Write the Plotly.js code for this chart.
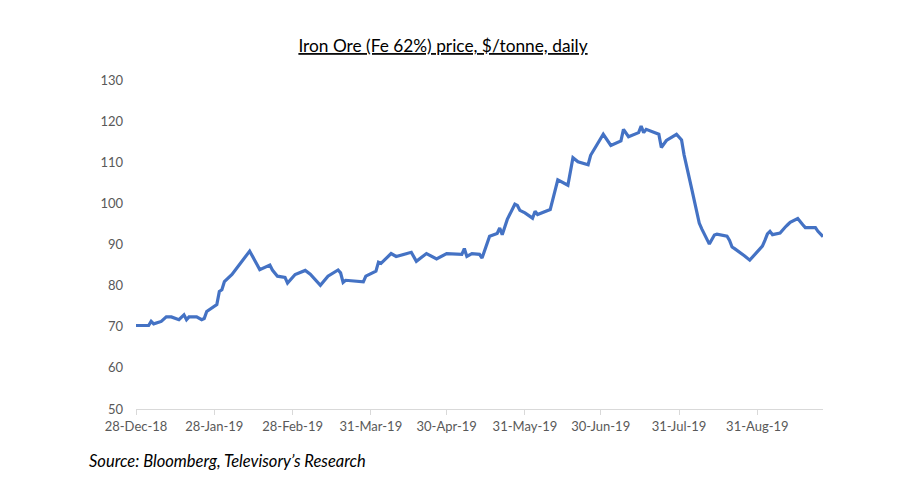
<!DOCTYPE html>
<html>
<head>
<meta charset="utf-8">
<script src="https://cdn.plot.ly/plotly-3.0.1.min.js"></script>
<style>
html,body{margin:0;padding:0;background:#fff;}
#chart{width:900px;height:500px;}
</style>
</head>
<body>
<div id="chart"></div>
<script>
const dates = ['2018-12-28','2019-01-02','2019-01-03','2019-01-04','2019-01-07','2019-01-09','2019-01-11','2019-01-14','2019-01-16','2019-01-17','2019-01-18','2019-01-21','2019-01-23','2019-01-24','2019-01-25','2019-01-29','2019-01-30','2019-01-31','2019-02-01','2019-02-04','2019-02-11','2019-02-14','2019-02-15','2019-02-19','2019-02-20','2019-02-22','2019-02-25','2019-02-26','2019-03-01','2019-03-05','2019-03-07','2019-03-11','2019-03-14','2019-03-18','2019-03-19','2019-03-20','2019-03-21','2019-03-28','2019-03-29','2019-04-02','2019-04-03','2019-04-04','2019-04-08','2019-04-10','2019-04-16','2019-04-18','2019-04-22','2019-04-26','2019-04-30','2019-05-06','2019-05-07','2019-05-08','2019-05-10','2019-05-13','2019-05-14','2019-05-17','2019-05-20','2019-05-21','2019-05-22','2019-05-24','2019-05-27','2019-05-28','2019-05-29','2019-05-31','2019-06-03','2019-06-04','2019-06-05','2019-06-10','2019-06-11','2019-06-13','2019-06-17','2019-06-19','2019-06-21','2019-06-25','2019-06-26','2019-07-01','2019-07-04','2019-07-08','2019-07-09','2019-07-11','2019-07-15','2019-07-16','2019-07-17','2019-07-18','2019-07-23','2019-07-24','2019-07-26','2019-07-30','2019-08-01','2019-08-02','2019-08-05','2019-08-06','2019-08-07','2019-08-08','2019-08-09','2019-08-12','2019-08-13','2019-08-14','2019-08-15','2019-08-19','2019-08-20','2019-08-21','2019-08-22','2019-08-23','2019-08-26','2019-08-28','2019-08-30','2019-09-02','2019-09-03','2019-09-04','2019-09-05','2019-09-06','2019-09-09','2019-09-10','2019-09-11','2019-09-12','2019-09-13','2019-09-16','2019-09-17','2019-09-18','2019-09-19','2019-09-20','2019-09-23','2019-09-24','2019-09-25','2019-09-26'];

const prices = [70.3,70.3,71.3,70.7,71.3,72.4,72.4,71.7,72.9,71.7,72.4,72.4,71.7,72.0,73.7,75.4,78.6,79.0,81.0,82.7,88.4,85.3,83.9,85.0,83.8,82.3,82.0,80.6,82.7,83.7,82.8,80.1,82.3,83.8,83.1,80.8,81.3,80.9,82.3,83.5,85.7,85.4,87.8,87.1,88.1,85.9,87.8,86.5,87.8,87.6,89.0,87.1,87.8,87.6,86.7,92.0,92.7,94.0,92.4,96.1,99.8,99.5,98.3,97.7,96.4,98.1,97.3,98.5,101.0,105.7,104.4,111.1,110.1,109.4,111.7,116.8,114.1,115.2,118.0,116.2,117.2,118.8,117.2,118.0,116.8,113.6,115.3,116.8,115.4,111.8,103.6,100.8,98.0,95.2,93.8,90.1,91.2,92.3,92.5,92.0,91.0,89.4,89.0,88.6,87.2,86.2,87.5,89.6,91.0,92.6,93.2,92.4,92.8,93.6,94.2,94.8,95.4,96.3,95.4,94.8,94.1,94.1,94.1,93.2,92.5,91.9];

const tickDates = ['2018-12-28','2019-01-28','2019-02-28','2019-03-31','2019-04-30','2019-05-31','2019-06-30','2019-07-31','2019-08-31'];
const tickLabels = ['28-Dec-18','28-Jan-19','28-Feb-19','31-Mar-19','30-Apr-19','31-May-19','30-Jun-19','31-Jul-19','31-Aug-19'];

const titleText = 'Iron Ore (Fe 62%) price, $/tonne, daily';
const sourceText = 'Source: Bloomberg, Televisory\u2019s Research';

const FONT = 'Lato, "Open Sans", sans-serif';

const trace = {
  x: dates,
  y: prices,
  type: 'scatter',
  mode: 'lines',
  line: {color: '#4472C4', width: 3.2, shape: 'linear'},
  hoverinfo: 'skip'
};

const layout = {
  width: 900,
  height: 500,
  paper_bgcolor: '#ffffff',
  plot_bgcolor: '#ffffff',
  showlegend: false,
  margin: {l: 136, r: 77, t: 80, b: 91, pad: 0},
  font: {family: FONT, color: '#595959'},
  title: {
    text: '<u>' + titleText + '</u>',
    font: {family: FONT, size: 17.3, color: '#000000'},
    x: 443/900, xref: 'container', xanchor: 'center',
    y: 1 - 46/500, yref: 'container', yanchor: 'middle'
  },
  xaxis: {
    type: 'date',
    range: ['2018-12-28', '2019-09-26'],
    tickmode: 'array',
    tickvals: tickDates,
    ticktext: tickLabels,
    tickfont: {family: FONT, size: 13, color: '#595959'},
    showgrid: false,
    zeroline: false,
    showline: true,
    linecolor: '#d9d9d9',
    linewidth: 1,
    ticks: 'outside',
    ticklen: 5,
    tickcolor: '#d9d9d9',
    tickwidth: 1
  },
  yaxis: {
    range: [50, 130],
    tickmode: 'linear',
    tick0: 50,
    dtick: 10,
    tickfont: {family: FONT, size: 13, color: '#595959'},
    showgrid: false,
    zeroline: false,
    showline: false,
    ticks: '',
    ticklabelstandoff: 12
  },
  annotations: [{
    text: '<i>' + sourceText + '</i>',
    xref: 'paper', yref: 'paper',
    x: (87 - 136) / 687, y: (409 - 461) / 329,
    xanchor: 'left', yanchor: 'middle',
    showarrow: false,
    font: {family: FONT, size: 16.5, color: '#000000'}
  }]
};

Plotly.newPlot('chart', [trace], layout, {staticPlot: true, displayModeBar: false});
</script>
</body>
</html>
